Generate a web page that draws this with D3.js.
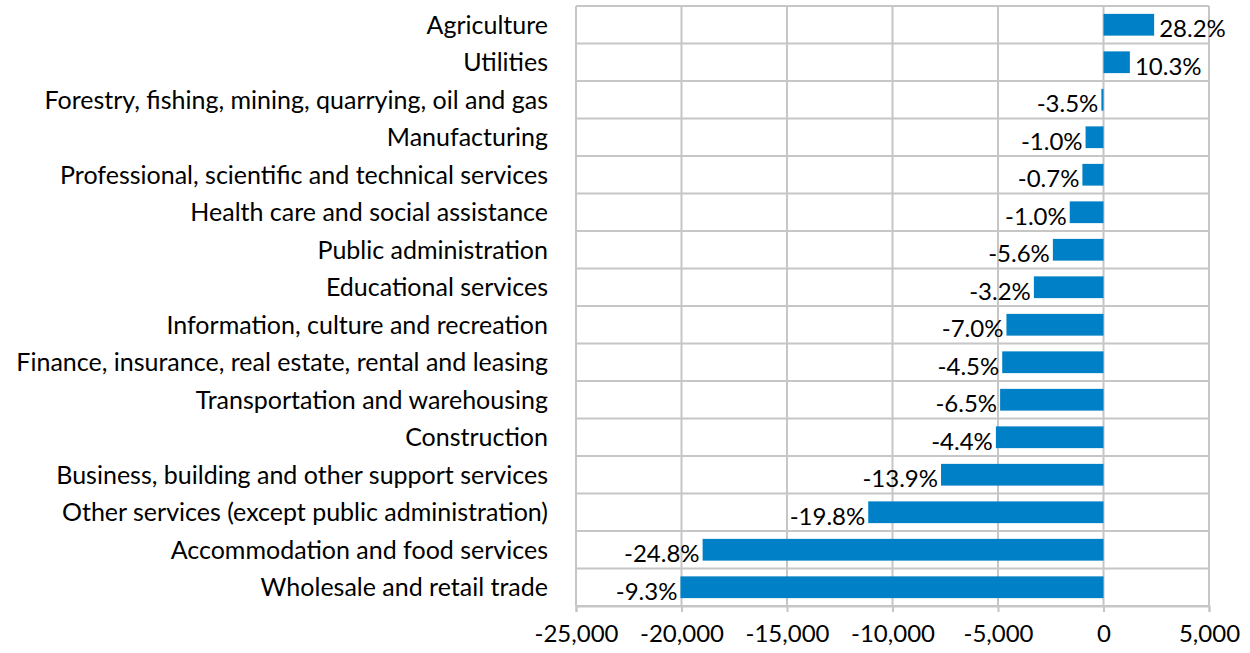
<!DOCTYPE html>
<html>
<head>
<meta charset="utf-8">
<script src="https://cdn.jsdelivr.net/npm/d3@7"></script>
<style>
    body { margin: 0; background: #fff; }
    text { font-family: Lato, "Open Sans", sans-serif; fill: #000; }
</style>
</head>
<body>
<div id="chart"></div>
<script>
// categories, top to bottom
const categories = [
    "Agriculture",
    "Utilities",
    "Forestry, fishing, mining, quarrying, oil and gas",
    "Manufacturing",
    "Professional, scientific and technical services",
    "Health care and social assistance",
    "Public administration",
    "Educational services",
    "Information, culture and recreation",
    "Finance, insurance, real estate, rental and leasing",
    "Transportation and warehousing",
    "Construction",
    "Business, building and other support services",
    "Other services (except public administration)",
    "Accommodation and food services",
    "Wholesale and retail trade"
];

// change in employment (bar length)
const changes = [2400, 1250, -100, -850, -1000, -1600, -2400, -3300, -4600, -4800, -4900, -5100, -7700, -11150, -19000, -20050];

// percent change (data labels)
const pctLabels = ["28.2%", "10.3%", "-3.5%", "-1.0%", "-0.7%", "-1.0%", "-5.6%", "-3.2%", "-7.0%", "-4.5%", "-6.5%", "-4.4%", "-13.9%", "-19.8%", "-24.8%", "-9.3%"];

const xTicks = [-25000, -20000, -15000, -10000, -5000, 0, 5000];

const W = 1250, H = 653;
const margin = {top: 6, right: 41, bottom: 47, left: 576};
const width = W - margin.left - margin.right;
const height = H - margin.top - margin.bottom;
const fontSize = 24;

const svg = d3.select("#chart").append("svg")
    .attr("width", W)
    .attr("height", H);

const g = svg.append("g")
    .attr("transform", `translate(${margin.left},${margin.top})`);

const x = d3.scaleLinear().domain([-25000, 5000]).range([0, width]);
const y = d3.scaleBand().domain(categories).range([0, height]).paddingInner(0.42).paddingOuter(0.21);

const gridColor = "#c6c6c6";

// vertical gridlines
g.selectAll("line.grid")
    .data(xTicks)
    .enter().append("line")
    .attr("class", "grid")
    .attr("x1", d => x(d)).attr("x2", d => x(d))
    .attr("y1", 0).attr("y2", height)
    .attr("stroke", gridColor).attr("stroke-width", 2);

// horizontal band lines
const step = y.step();
g.selectAll("line.hgrid")
    .data(d3.range(categories.length + 1))
    .enter().append("line")
    .attr("class", "hgrid")
    .attr("x1", 0).attr("x2", width)
    .attr("y1", i => i * step).attr("y2", i => i * step)
    .attr("stroke", gridColor).attr("stroke-width", 2);

// x axis (plain hyphen for negatives, like the original)
const fmt = d3.format(",d");
const xAxis = d3.axisBottom(x)
    .tickValues(xTicks)
    .tickSize(6)
    .tickPadding(13)
    .tickFormat(d => fmt(d).replace("\u2212", "-"));

const ax = g.append("g")
    .attr("transform", `translate(0,${height})`)
    .call(xAxis);
ax.select(".domain").attr("stroke", gridColor).attr("stroke-width", 2);
ax.selectAll(".tick line").attr("stroke", gridColor).attr("stroke-width", 2);
ax.selectAll(".tick text")
    .attr("font-size", fontSize)
    .style("font-family", "Lato, 'Open Sans', sans-serif")
    .attr("fill", "#000");

// bars
g.selectAll("rect.bar")
    .data(categories)
    .enter().append("rect")
    .attr("class", "bar")
    .attr("x", (d, i) => x(Math.min(0, changes[i])))
    .attr("y", d => y(d))
    .attr("width", (d, i) => Math.abs(x(changes[i]) - x(0)))
    .attr("height", y.bandwidth())
    .attr("fill", "#0080c6");

// category labels
g.selectAll("text.cat")
    .data(categories)
    .enter().append("text")
    .attr("class", "cat")
    .attr("x", -28)
    .attr("y", d => y(d) + y.bandwidth() / 2)
    .attr("dy", "0.35em")
    .attr("text-anchor", "end")
    .attr("font-size", 25)
    .text(d => d);

// value labels
g.selectAll("text.val")
    .data(categories)
    .enter().append("text")
    .attr("class", "val")
    .attr("x", (d, i) => changes[i] >= 0 ? x(changes[i]) + 5 : x(changes[i]) - 3)
    .attr("y", d => y(d) + y.bandwidth() / 2 + 4)
    .attr("dy", "0.35em")
    .attr("text-anchor", (d, i) => changes[i] >= 0 ? "start" : "end")
    .attr("font-size", fontSize)
    .text((d, i) => pctLabels[i]);
</script>
</body>
</html>
